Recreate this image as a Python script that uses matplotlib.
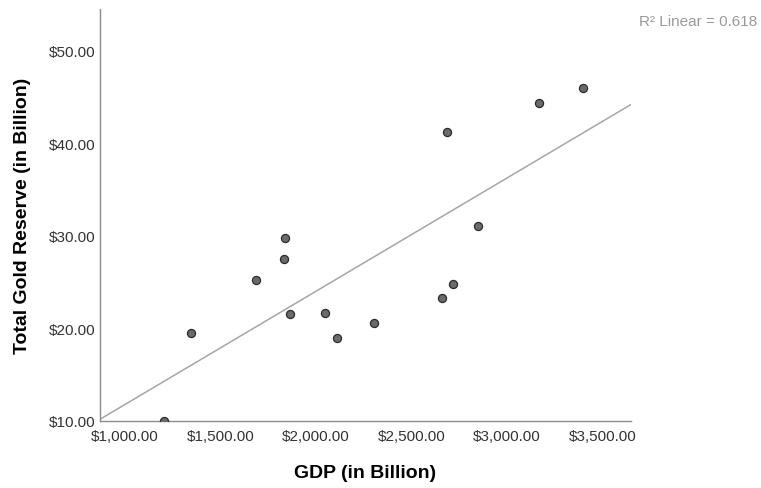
import numpy as np
import matplotlib
matplotlib.use('Agg')
import matplotlib.pyplot as plt
from matplotlib.ticker import FuncFormatter

plt.rcParams['font.family'] = ['Liberation Sans', 'DejaVu Sans']

# GDP (in Billion) vs Total Gold Reserve (in Billion)
gdp = [1206, 1347, 1687, 1833, 1838, 1865, 2048, 2111, 2304,
       2660, 2717, 2686, 2848, 3167, 3397]
gold = [10.0, 19.5, 25.2, 27.5, 29.8, 21.6, 21.7, 19.0, 20.6,
        23.3, 24.8, 41.2, 31.1, 44.3, 46.0]
x_ticks = [1000, 1500, 2000, 2500, 3000, 3500]
y_ticks = [10, 20, 30, 40, 50]
r2_label = 'R² Linear = 0.618'

W, H = 761, 489
fig = plt.figure(figsize=(W / 100, H / 100), dpi=100, facecolor='white')
ax = fig.add_axes([100 / W, (H - 422) / H, 531 / W, 412 / H])

xlim = (871, 3648)
ylim = (10, 54.5)

slope, intercept = np.polyfit(gdp, gold, 1)
xs = np.array(xlim)
ax.plot(xs, slope * xs + intercept, color='#a6a6a6', lw=1.1, zorder=2)

ax.scatter(gdp, gold, s=34, facecolor='#6b6b6b', edgecolor='#2b2b2b',
           linewidth=0.9, zorder=3)

ax.set_xlim(*xlim)
ax.set_ylim(*ylim)
ax.set_xticks(x_ticks)
ax.set_yticks(y_ticks)
ax.xaxis.set_major_formatter(FuncFormatter(lambda v, p: f'${v:,.2f}'))
ax.yaxis.set_major_formatter(FuncFormatter(lambda v, p: f'${v:,.2f}'))
ax.tick_params(length=0, labelsize=11, colors='#333333')
ax.tick_params(axis='y', pad=3)
ax.tick_params(axis='x', pad=6)

for side in ('top', 'right'):
    ax.spines[side].set_visible(False)
for side in ('left', 'bottom'):
    ax.spines[side].set_color('#8c8c8c')
    ax.spines[side].set_linewidth(1)

ax.set_xlabel('GDP (in Billion)', fontsize=14, fontweight='bold', labelpad=15)
ax.set_ylabel('Total Gold Reserve (in Billion)', fontsize=14,
              fontweight='bold', labelpad=13)

fig.text(757 / W, 1 - 22 / H, r2_label, ha='right', va='center',
         fontsize=11, color='#999999')

fig.savefig('out.png', dpi=100, facecolor='white')
